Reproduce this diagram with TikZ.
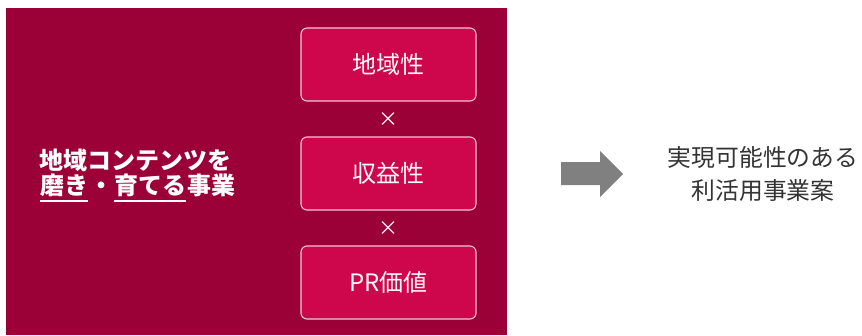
\documentclass[tikz,border=0pt]{standalone}
\usepackage{fontspec}
\setmainfont{Noto Sans CJK JP}
\newfontfamily\cjklight{Noto Sans CJK JP}
\usetikzlibrary{calc}
\definecolor{darkred}{HTML}{9B0036}
\definecolor{pinkbox}{HTML}{CE064B}
\definecolor{pinkline}{HTML}{F3C6D3}
\definecolor{arrowgray}{HTML}{808080}
\definecolor{txtgray}{HTML}{333333}
\newcommand{\ul}[1]{\tikz[baseline=(t.base)]{\node[inner sep=0pt] (t) {#1}; \draw[white, line width=1.6pt] ([yshift=-4pt]t.south west) -- ([yshift=-4pt]t.south east);}}
\begin{document}
\begin{tikzpicture}[x=1pt,y=-1pt,
  factor/.style={draw=pinkline, line width=1.1pt, fill=pinkbox, rounded corners=6pt,
    minimum width=175pt, minimum height=73pt, inner sep=0pt,
    text=white!92!pink, font=\cjklight\fontsize{24pt}{28pt}\selectfont},
  times/.style={text=white!90!pink, inner sep=0pt, font=\fontsize{20pt}{22pt}\selectfont},
  lead/.style={text=white, font=\bfseries\fontsize{24pt}{28pt}\selectfont, inner sep=0pt, anchor=west},
  result/.style={text=txtgray, font=\cjklight\fontsize{23.8pt}{33pt}\selectfont, align=center, inner sep=0pt}]
\useasboundingbox (0,0) rectangle (862,335);
\fill[darkred] (6,8) rectangle (507,335);
\node[factor] (f1) at (388.5,64.5) {地域性};
\node[factor] (f2) at (388.5,173.5) {収益性};
\node[factor] (f3) at (388.5,282.5) {PR価値};
\node[times] (x1) at (388.5,119.5) {×};
\node[times] (x2) at (388.5,228.5) {×};
\node[lead] (l1) at (39,160) {地域コンテンツを};
\node[lead] (l2) at (39,188) {\ul{磨き}・\ul{育てる}事業};
\node[result] (r) at (763,173.5) {実現可能性のある\\利活用事業案};
\fill[arrowgray] (561,162) -- (600,162) -- (600,151) -- (623,174) -- (600,197) -- (600,185) -- (561,185) -- cycle;
\end{tikzpicture}
\end{document}
